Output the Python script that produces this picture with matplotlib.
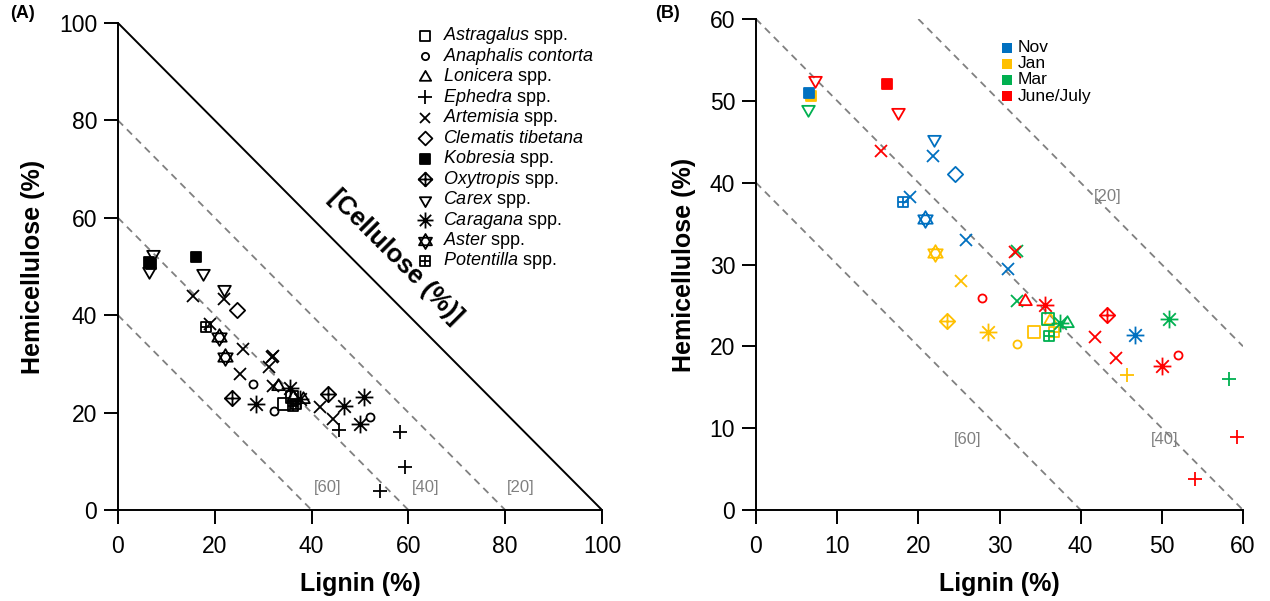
import numpy as np
import matplotlib
matplotlib.use("Agg")
import matplotlib.pyplot as plt
from matplotlib.path import Path

plt.rcParams['font.family'] = ['Liberation Sans', 'DejaVu Sans']
plt.rcParams['mathtext.fontset'] = 'custom'
plt.rcParams['mathtext.rm'] = 'Liberation Sans'
plt.rcParams['mathtext.it'] = 'Liberation Sans:italic'
plt.rcParams['mathtext.bf'] = 'Liberation Sans:bold'

# ---------------- data ----------------
species = ["Astragalus", "Anaphalis contorta", "Lonicera", "Ephedra", "Artemisia",
           "Clematis tibetana", "Kobresia", "Oxytropis", "Carex", "Caragana",
           "Aster", "Potentilla"]
species_suffix = [" spp.", "", " spp.", " spp.", " spp.", "", " spp.", " spp.",
                  " spp.", " spp.", " spp.", " spp."]
months = ["Nov", "Jan", "Mar", "June/July"]
month_colors = ["#0070C0", "#FFC000", "#00B050", "#FF0000"]

pt_species = ["Kobresia", "Kobresia", "Kobresia",
              "Carex", "Carex", "Carex", "Carex",
              "Artemisia", "Artemisia", "Artemisia", "Artemisia", "Artemisia", "Artemisia",
              "Artemisia", "Artemisia", "Artemisia", "Artemisia", "Artemisia",
              "Clematis tibetana",
              "Potentilla", "Potentilla", "Potentilla",
              "Aster", "Aster",
              "Anaphalis contorta", "Anaphalis contorta", "Anaphalis contorta",
              "Lonicera", "Lonicera", "Lonicera",
              "Caragana", "Caragana", "Caragana", "Caragana", "Caragana", "Caragana",
              "Oxytropis", "Oxytropis",
              "Astragalus", "Astragalus",
              "Ephedra", "Ephedra", "Ephedra", "Ephedra"]
pt_month = ["Jan", "Nov", "June/July",
            "June/July", "Mar", "June/July", "Nov",
            "June/July", "Nov", "Nov", "Nov", "Mar", "June/July",
            "Nov", "Jan", "Mar", "June/July", "June/July",
            "Nov",
            "Nov", "Jan", "Mar",
            "Nov", "Jan",
            "June/July", "Jan", "June/July",
            "June/July", "Jan", "Mar",
            "June/July", "Mar", "Jan", "Nov", "Mar", "June/July",
            "Jan", "June/July",
            "Jan", "Mar",
            "Jan", "Mar", "June/July", "June/July"]
lignin = [6.8, 6.5, 16.1,
          7.3, 6.4, 17.5, 21.9,
          15.4, 21.8, 19.0, 25.9, 32.1, 31.9,
          31.1, 25.2, 32.1, 41.8, 44.4,
          24.5,
          18.1, 36.7, 36.1,
          20.8, 22.1,
          27.8, 32.2, 52.0,
          33.1, 36.2, 38.3,
          35.6, 37.5, 28.6, 46.7, 50.9, 50.0,
          23.5, 43.3,
          34.2, 36.0,
          45.7, 58.3, 59.3, 54.1]
hemicellulose = [50.6, 50.9, 52.0,
                 52.6, 49.0, 48.6, 45.3,
                 43.9, 43.3, 38.2, 33.0, 31.6, 31.5,
                 29.4, 28.0, 25.5, 21.2, 18.6,
                 41.0,
                 37.6, 21.7, 21.3,
                 35.5, 31.4,
                 25.9, 20.3, 19.0,
                 25.5, 23.2, 22.8,
                 25.1, 22.8, 21.7, 21.4, 23.3, 17.6,
                 23.1, 23.8,
                 21.8, 23.3,
                 16.5, 16.0, 8.9, 3.8]

cellulose_levels_A = [20, 40, 60]
cellulose_levels_B = [20, 40, 60]

# ---------------- markers ----------------
def make_path(polys=(), segs=()):
    verts, codes = [], []
    for poly in polys:
        verts += list(poly) + [poly[0]]
        codes += [Path.MOVETO] + [Path.LINETO] * (len(poly) - 1) + [Path.CLOSEPOLY]
    for a, b in segs:
        verts += [a, b]
        codes += [Path.MOVETO, Path.LINETO]
    return Path(verts, codes)

s3 = np.sqrt(3) / 2
tri_up = [(0, 1), (-s3, -0.5), (s3, -0.5)]
tri_dn = [(0, -1), (-s3, 0.5), (s3, 0.5)]
diam = [(0, 1), (1, 0), (0, -1), (-1, 0)]
sq = [(-1, -1), (1, -1), (1, 1), (-1, 1)]
cross = [((0, 1), (0, -1)), ((-1, 0), (1, 0))]
r2 = np.sqrt(0.5)
aster_segs = [((0, 1), (0, -1)), ((-1, 0), (1, 0)),
              ((-r2, -r2), (r2, r2)), ((-r2, r2), (r2, -r2))]

# marker, size (pt), filled
marker_style = {
    "Astragalus": (make_path([sq]), 8.0, False),
    "Anaphalis contorta": ("o", 5.8, False),
    "Lonicera": (make_path([tri_up]), 10.5, False),
    "Ephedra": ("+", 10.5, False),
    "Artemisia": ("x", 8.2, False),
    "Clematis tibetana": (make_path([diam]), 11.0, False),
    "Kobresia": (make_path([sq]), 7.6, True),
    "Oxytropis": (make_path([diam], cross), 11.0, False),
    "Carex": (make_path([tri_dn]), 10.5, False),
    "Caragana": (make_path([], aster_segs), 12.8, False),
    "Aster": (make_path([tri_up, tri_dn]), 12.0, False),
    "Potentilla": (make_path([sq], cross), 7.6, False),
}

LW = 1.3
GRAY = "#808080"

fig = plt.figure(figsize=(12.7, 6.01), dpi=100)
axA = fig.add_axes([118 / 1270, 1 - 510 / 601, 484 / 1270, 487 / 601])
axB = fig.add_axes([756 / 1270, 1 - 510 / 601, 487 / 1270, 491 / 601])


def style_axes(ax, lim, step):
    ax.set_xlim(0, lim)
    ax.set_ylim(0, lim)
    for s in ["top", "right"]:
        ax.spines[s].set_visible(False)
    for s in ["left", "bottom"]:
        ax.spines[s].set_linewidth(1.4)
    ticks = np.arange(0, lim + 1, step)
    ax.set_xticks(ticks)
    ax.set_yticks(ticks)
    ax.tick_params(axis="both", direction="out", length=10, width=1.4, labelsize=16.5)
    ax.tick_params(axis="x", pad=8)
    ax.tick_params(axis="y", pad=5)


def draw_points(ax, colored):
    for sp, mo, x, y in zip(pt_species, pt_month, lignin, hemicellulose):
        mk, ms, filled = marker_style[sp]
        c = month_colors[months.index(mo)] if colored else "black"
        ax.plot([x], [y], linestyle="none", marker=mk, markersize=ms,
                markeredgewidth=LW, markeredgecolor=c,
                markerfacecolor=c if filled else "none", clip_on=False, zorder=3)


# ---------------- Panel A ----------------
style_axes(axA, 100, 20)
axA.plot([0, 100], [100, 0], color="black", lw=1.4, zorder=2)
for c in cellulose_levels_A:
    s = 100 - c
    axA.plot([0, s], [s, 0], color=GRAY, lw=1.3, dashes=(4, 3), zorder=1)
label_pos_A = {60: (43.4, 4.7), 40: (63.6, 4.7), 20: (83.3, 4.7)}
for c, (x, y) in label_pos_A.items():
    axA.text(x, y, f"[{c}]", color=GRAY, fontsize=12, ha="center", va="center")
axA.text(57.3, 52.0, "[Cellulose (%)]", fontsize=18.5, fontweight="bold",
         rotation=-45, ha="center", va="center", rotation_mode="anchor")
draw_points(axA, colored=False)

# legend A (manual)
leg_x_marker = (425 - 118) / 484
leg_x_text = (443 - 118) / 484
for i, sp in enumerate(species):
    ypix = 36 + i * 20.45
    yf = (510 - ypix) / 487
    mk, ms, filled = marker_style[sp]
    axA.plot([leg_x_marker], [yf], transform=axA.transAxes, linestyle="none",
             marker=mk, markersize=ms * 0.9, markeredgewidth=LW, markeredgecolor="black",
             markerfacecolor="black" if filled else "none", clip_on=False)
    name = r"$\it{" + sp.replace(" ", r"\ ") + "}$"
    axA.text(leg_x_text, yf, name + species_suffix[i], transform=axA.transAxes,
             fontsize=13, ha="left", va="center")

axA.set_xlabel("Lignin (%)", fontsize=18, fontweight="bold", labelpad=10)
axA.set_ylabel("Hemicellulose (%)", fontsize=18, fontweight="bold", labelpad=10)

# ---------------- Panel B ----------------
style_axes(axB, 60, 10)
for c in cellulose_levels_B:
    s = 100 - c
    x0, x1 = max(0, s - 60), min(60, s)
    axB.plot([x0, x1], [s - x0, s - x1], color=GRAY, lw=1.3, dashes=(4, 3), zorder=1)
label_pos_B = {60: (26.1, 8.6), 40: (50.4, 8.6), 20: (43.3, 38.3)}
for c, (x, y) in label_pos_B.items():
    axB.text(x, y, f"[{c}]", color=GRAY, fontsize=12, ha="center", va="center")
draw_points(axB, colored=True)

legB_x_marker = (1007 - 756) / 487
legB_x_text = (1018 - 756) / 487
for i, mo in enumerate(months):
    ypix = 48 + i * 16
    yf = (510 - ypix) / 491
    axB.plot([legB_x_marker], [yf], transform=axB.transAxes, linestyle="none",
             marker="s", markersize=7, markeredgewidth=0,
             markerfacecolor=month_colors[i], clip_on=False)
    axB.text(legB_x_text, yf, mo, transform=axB.transAxes, fontsize=12.5,
             ha="left", va="center")

axB.set_xlabel("Lignin (%)", fontsize=18, fontweight="bold", labelpad=10)
axB.set_ylabel("Hemicellulose (%)", fontsize=18, fontweight="bold", labelpad=10)

fig.text(10 / 1270, 1 - 14 / 601, "(A)", fontsize=13, fontweight="bold", ha="left", va="center")
fig.text(655 / 1270, 1 - 14 / 601, "(B)", fontsize=13, fontweight="bold", ha="left", va="center")

fig.savefig("out.png", dpi=100)
